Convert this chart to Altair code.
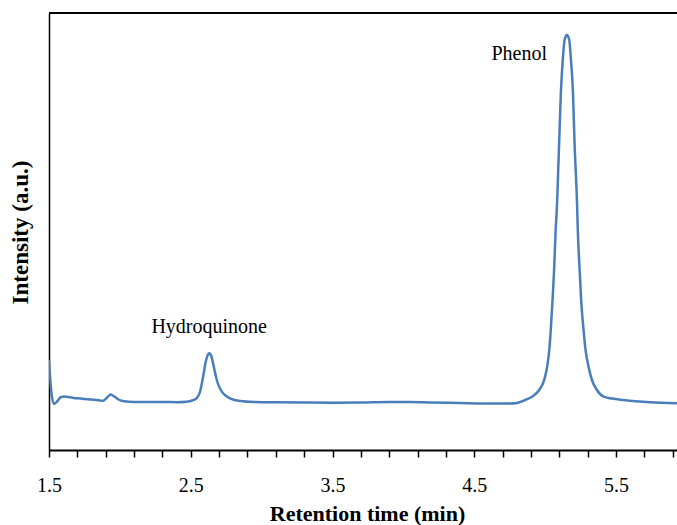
import altair as alt
import pandas as pd

# Chromatogram trace (retention time in min, intensity in a.u.)
time_min = [1.500, 1.515, 1.535, 1.560, 1.585, 1.610, 1.650, 1.700, 1.750, 1.800,
            1.850, 1.880, 1.910, 1.935, 1.960, 1.990, 2.030, 2.100, 2.200, 2.300,
            2.400, 2.470, 2.510, 2.540, 2.565, 2.587, 2.605, 2.620, 2.631, 2.645,
            2.660, 2.672, 2.690, 2.719, 2.750, 2.777, 2.848, 2.950, 3.100, 3.300,
            3.500, 3.700, 3.900, 4.050, 4.200, 4.400, 4.600, 4.750, 4.800, 4.859,
            4.907, 4.958, 4.993, 5.014, 5.029, 5.038, 5.052, 5.064, 5.073, 5.085,
            5.092, 5.099, 5.111, 5.125, 5.137, 5.153, 5.170, 5.181, 5.196, 5.207,
            5.224, 5.231, 5.242, 5.254, 5.273, 5.285, 5.306, 5.330, 5.365, 5.412,
            5.470, 5.551, 5.741, 5.930]
intensity = [42.0, 12.0, -2.0, 1.0, 5.0, 5.5, 4.7, 3.7, 3.0, 2.5,
             1.7, 1.2, 4.5, 7.5, 5.5, 2.5, 0.7, 0.0, 0.0, 0.0,
             -0.2, 0.3, 1.5, 3.7, 10.0, 25.3, 40.0, 47.0, 48.7, 46.0,
             37.0, 29.0, 19.0, 10.3, 6.0, 3.7, 1.0, 0.0, -0.3, -0.5,
             -0.7, -0.5, 0.0, 0.0, -0.5, -1.0, -1.5, -1.5, -1.0, 2.0,
             5.3, 12.0, 22.0, 35.3, 52.0, 68.7, 102.0, 135.3, 168.7, 202.0,
             232.0, 260.3, 310.3, 343.7, 362.0, 367.0, 362.0, 343.7, 310.3, 260.3,
             202.0, 168.7, 135.3, 102.0, 68.7, 52.0, 35.3, 22.0, 12.0, 5.3,
             3.5, 2.0, -0.3, -1.3]

peak_names = ["Hydroquinone", "Phenol"]
peak_label_time = [2.63, 4.817]
peak_label_int = [68.7, 342.0]

tick_values = [1.5, 1.7, 1.9, 2.1, 2.3, 2.5, 2.7, 2.9, 3.1, 3.3, 3.5, 3.7, 3.9,
               4.1, 4.3, 4.5, 4.7, 4.9, 5.1, 5.3, 5.5, 5.7, 5.9]

W, H = 628, 437
FONT = "Liberation Serif"

trace = pd.DataFrame({"t": time_min, "i": intensity})
notes = pd.DataFrame({"name": peak_names, "t": peak_label_time, "i": peak_label_int})

xscale = alt.Scale(domain=[1.5, 5.93], nice=False, zero=False)
yscale = alt.Scale(domain=[-48, 389], nice=False, zero=False)

xaxis = alt.Axis(
    values=tick_values,
    tickCount=40,
    labelExpr="round(datum.value*10) % 10 == 5 ? format(datum.value, '.1f') : ''",
    title="Retention time (min)",
    grid=False,
    domainColor="black", domainWidth=2,
    tickColor="black", tickWidth=1.5, tickSize=7,
    labelFont=FONT, labelFontSize=20, labelColor="black",
    labelBaseline="alphabetic", labelPadding=34,
    labelOverlap=False, labelFlush=False,
    titleFont=FONT, titleFontSize=22, titleFontWeight="bold", titleColor="black",
    titleX=318, titleY=70, titleBaseline="alphabetic", titleAlign="center",
)
yaxis = alt.Axis(
    title="Intensity (a.u.)",
    grid=False, ticks=False, labels=False,
    domainColor="black", domainWidth=1.5,
    titleFont=FONT, titleFontSize=23, titleFontWeight="bold", titleColor="black",
    titleAngle=270, titleX=-29, titleY=219, titleBaseline="middle", titleAlign="center",
)

line = alt.Chart(trace).mark_line(
    color="#4a7ebb", strokeWidth=2.5, interpolate="monotone", clip=True
).encode(
    x=alt.X("t:Q", scale=xscale, axis=xaxis),
    y=alt.Y("i:Q", scale=yscale, axis=yaxis),
)

text = alt.Chart(notes).mark_text(
    font=FONT, fontSize=20, color="black", baseline="alphabetic", align="center"
).encode(
    x=alt.X("t:Q", scale=xscale),
    y=alt.Y("i:Q", scale=yscale),
    text="name:N",
)

top_border = alt.Chart(notes).mark_rule(color="black", strokeWidth=2).encode(
    x=alt.value(0), x2=alt.value(W), y=alt.value(0)
)

chart = alt.layer(line, text, top_border).properties(
    width=W, height=H,
    autosize=alt.AutoSizeParams(type="none"),
    padding={"left": 49, "top": 13, "right": 0, "bottom": 75},
    background="white",
).configure_view(stroke=None)

chart.save("out.html", embed_options={"renderer": "svg", "actions": False})
